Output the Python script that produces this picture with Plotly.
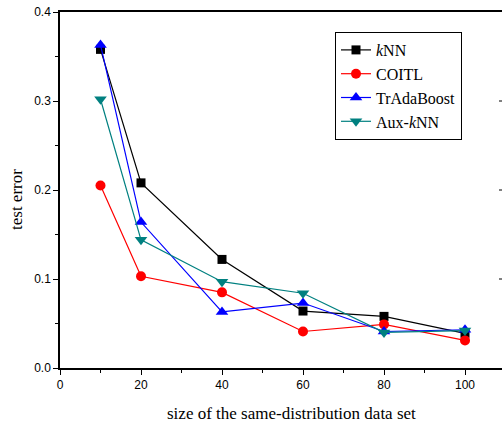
import plotly.graph_objects as go

x_sizes = [10, 20, 40, 60, 80, 100]
knn = [0.358, 0.208, 0.122, 0.064, 0.058, 0.039]
coitl = [0.205, 0.103, 0.085, 0.041, 0.049, 0.031]
tradaboost = [0.363, 0.164, 0.063, 0.073, 0.041, 0.043]
aux_knn = [0.302, 0.144, 0.097, 0.084, 0.040, 0.042]

series_names = ["<i>k</i>NN", "COITL", "TrAdaBoost", "Aux-<i>k</i>NN"]
x_tickvals = [0, 20, 40, 60, 80, 100]
y_tickvals = [0.0, 0.1, 0.2, 0.3, 0.4]
y_ticktext = ["0.0", "0.1", "0.2", "0.3", "0.4"]

styles = [
    dict(color="#000000", symbol="square", size=9),
    dict(color="#ff0000", symbol="circle", size=10),
    dict(color="#0000ff", symbol="triangle-up", size=11),
    dict(color="#008080", symbol="triangle-down", size=11),
]

fig = go.Figure()
for name, vals, st in zip(series_names, [knn, coitl, tradaboost, aux_knn], styles):
    fig.add_trace(go.Scatter(
        x=x_sizes, y=vals, name=name, mode="lines+markers",
        line=dict(color=st["color"], width=1.2),
        marker=dict(color=st["color"], symbol=st["symbol"], size=st["size"], line=dict(width=0)),
    ))

W, H = 502, 425
L, R, T, B = 60, 0, 12, 57
px_per_unit = 4.05
xmax = (W - L - R) / px_per_unit

fig.update_layout(
    width=W, height=H,
    margin=dict(l=L, r=R, t=T, b=B),
    paper_bgcolor="white", plot_bgcolor="white",
    showlegend=True,
    legend=dict(
        x=(335 - L) / (W - L - R), y=(368 - 32) / (H - T - B),
        xanchor="left", yanchor="top",
        bgcolor="white", bordercolor="black", borderwidth=1,
        font=dict(family="Liberation Serif", size=16, color="black"),
        tracegroupgap=0, itemwidth=30,
    ),
    xaxis=dict(
        range=[0, xmax], tickvals=x_tickvals,
        showgrid=False, zeroline=False,
        showline=True, linecolor="black", linewidth=1.5, mirror=True,
        ticks="outside", ticklen=5, tickwidth=1, tickcolor="black",
        minor=dict(dtick=10, tick0=0, ticks="outside", ticklen=3, tickcolor="black", showgrid=False),
        tickfont=dict(family="Liberation Sans", size=12, color="black"),
    ),
    yaxis=dict(
        range=[0, 0.4], tickvals=y_tickvals, ticktext=y_ticktext,
        showgrid=False, zeroline=False,
        showline=True, linecolor="black", linewidth=1.5, mirror=False,
        ticks="outside", ticklen=5, tickwidth=1, tickcolor="black",
        minor=dict(dtick=0.05, tick0=0, ticks="outside", ticklen=3, tickcolor="black", showgrid=False),
        tickfont=dict(family="Liberation Sans", size=12, color="black"),
    ),
    annotations=[
        dict(text="size of the same-distribution data set", xref="paper", yref="paper",
             x=(291 - L) / (W - L - R), y=-(413 - 368) / (H - T - B), xanchor="center", yanchor="middle",
             showarrow=False, font=dict(family="Liberation Serif", size=17, color="black")),
        dict(text="test error", xref="paper", yref="paper", textangle=-90,
             x=-(L - 17) / (W - L - R), y=(368 - 200) / (H - T - B), xanchor="center", yanchor="middle",
             showarrow=False, font=dict(family="Liberation Serif", size=17, color="black")),
    ],
)

# inward ticks of the (cropped) right axis
shapes = []
for v in [0.1, 0.2, 0.3]:
    shapes.append(dict(type="line", xref="paper", yref="y", x0=1 - 3 / (W - L - R), x1=1, y0=v, y1=v,
                       line=dict(color="black", width=1)))
fig.update_layout(shapes=shapes)

fig.write_html("out.html", config={"displayModeBar": False},
               post_script="document.body.style.margin='0px';document.body.style.overflow='hidden';")
